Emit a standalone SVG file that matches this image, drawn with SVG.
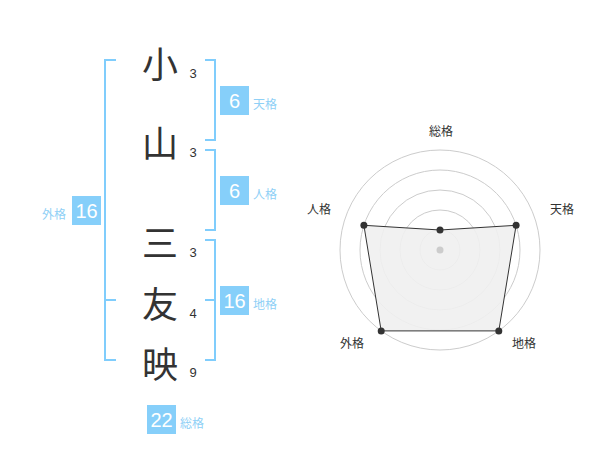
<svg xmlns="http://www.w3.org/2000/svg" width="600" height="470" viewBox="0 0 600 470">
<style>
.bk{fill:none;stroke:#80cdfc;stroke-width:2}
.ch{font-family:"Noto Sans CJK JP","Noto Sans CJK SC",sans-serif;font-size:36px;fill:#333;text-anchor:middle;dominant-baseline:central}
.st{font-family:"Liberation Sans",Arial,sans-serif;font-size:13px;fill:#333;text-anchor:middle}
.bx{fill:#86cffa}
.bn{font-family:"Liberation Sans",Arial,sans-serif;font-size:20px;fill:#fff;text-anchor:middle;dominant-baseline:central}
.lb{font-family:"Noto Sans CJK JP","Noto Sans CJK SC",sans-serif;font-size:12px;fill:#8fd0f6;dominant-baseline:central}
.rl{font-family:"Noto Sans CJK JP","Noto Sans CJK SC",sans-serif;font-size:12px;fill:#333;text-anchor:middle;dominant-baseline:central}
.gc{fill:none;stroke:#cccccc;stroke-width:1}
.pt{fill:#333}
</style>
<rect width="600" height="470" fill="#fff"/>
<g id="connectors">
<path class="bk" d="M116,60 H105 V360 H116 M105,300 H116"/>
<path class="bk" d="M205,60 H215 V140 H205"/>
<path class="bk" d="M205,150 H215 V230 H205"/>
<path class="bk" d="M205,240 H215 V360 H205 M205,300 H215"/>
</g>
<g id="chars">
<text class="ch" x="160" y="62">小</text>
<text class="ch" x="160" y="141">山</text>
<text class="ch" x="160" y="241">三</text>
<text class="ch" x="160" y="302">友</text>
<text class="ch" x="160" y="362">映</text>
<text class="st" x="193" y="78">3</text>
<text class="st" x="193" y="157">3</text>
<text class="st" x="193" y="257">3</text>
<text class="st" x="193" y="318">4</text>
<text class="st" x="193" y="377">9</text>
</g>
<g id="tenkaku">
<rect class="bx" x="220" y="86" width="29" height="29"/>
<text class="bn" x="234.5" y="100.5">6</text>
<text class="lb" x="253" y="103">天格</text>
</g>
<g id="jinkaku">
<rect class="bx" x="220" y="176" width="29" height="29"/>
<text class="bn" x="234.5" y="190.5">6</text>
<text class="lb" x="253" y="193">人格</text>
</g>
<g id="gaikaku">
<rect class="bx" x="72" y="196" width="29" height="29"/>
<text class="bn" x="86.5" y="210.5">16</text>
<text class="lb" x="66" y="213" text-anchor="end">外格</text>
</g>
<g id="chikaku">
<rect class="bx" x="220" y="286" width="29" height="29"/>
<text class="bn" x="234.5" y="300.5">16</text>
<text class="lb" x="253" y="303">地格</text>
</g>
<g id="soukaku">
<rect class="bx" x="147" y="405" width="29" height="29"/>
<text class="bn" x="161.5" y="419.5">22</text>
<text class="lb" x="180" y="422">総格</text>
</g>
<g id="radar">
<circle class="gc" cx="440" cy="250" r="20"/>
<circle class="gc" cx="440" cy="250" r="40"/>
<circle class="gc" cx="440" cy="250" r="60"/>
<circle class="gc" cx="440" cy="250" r="80"/>
<circle class="gc" cx="440" cy="250" r="100"/>
<polygon points="440,230 516.1,225.3 498.8,330.9 381.2,330.9 363.9,225.3" fill="#efefef" fill-opacity="0.9" stroke="#333" stroke-width="1"/>
<circle cx="440" cy="250" r="3.5" fill="#ccc"/>
<circle class="pt" cx="440" cy="230" r="3.5"/>
<circle class="pt" cx="516.1" cy="225.3" r="3.5"/>
<circle class="pt" cx="498.8" cy="330.9" r="3.5"/>
<circle class="pt" cx="381.2" cy="330.9" r="3.5"/>
<circle class="pt" cx="363.9" cy="225.3" r="3.5"/>
<text class="rl" x="441" y="130">総格</text>
<text class="rl" x="562" y="208">天格</text>
<text class="rl" x="319" y="208">人格</text>
<text class="rl" x="352" y="342">外格</text>
<text class="rl" x="524" y="342">地格</text>
</g>
</svg>
